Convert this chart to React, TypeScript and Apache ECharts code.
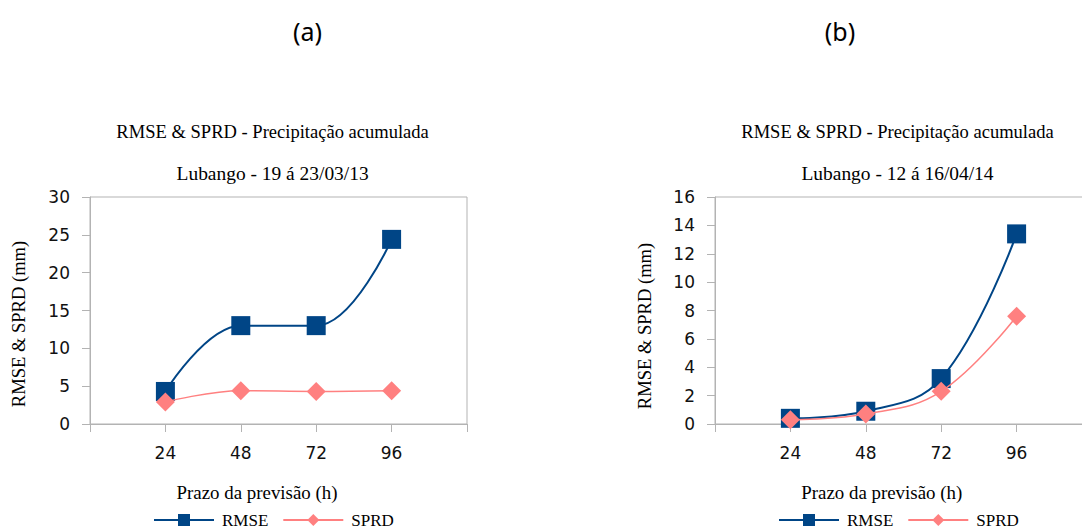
import React, { useEffect, useRef } from "react";
import * as echarts from "echarts";

const hours = [24, 48, 72, 96];
const rmseA = [4.3, 13.0, 13.0, 24.4];
const sprdA = [2.9, 4.4, 4.3, 4.4];
const rmseB = [0.4, 0.9, 3.2, 13.4];
const sprdB = [0.3, 0.7, 2.3, 7.6];

const panelLabels = ["(a)", "(b)"];
const titleText = "RMSE & SPRD - Precipitação acumulada";
const subtitles = ["Lubango - 19 á 23/03/13", "Lubango - 12 á 16/04/14"];
const xName = "Prazo da previsão (h)";
const yName = "RMSE & SPRD (mm)";
const seriesNames = ["RMSE", "SPRD"];

const RMSE_COLOR = "#004586";
const SPRD_COLOR = "#ff8080";
const AXIS_COLOR = "#b3b3b3";
const SERIF = "'Liberation Serif', 'Times New Roman', serif";
const SANS = "'DejaVu Sans', sans-serif";

const pairs = (xs: number[], ys: number[]) => xs.map((x, i) => [x, ys[i]]);

export default function App() {
  const ref = useRef<HTMLDivElement>(null);
  useEffect(() => {
    if (!ref.current) return;
    const chart = echarts.init(ref.current, null, { renderer: "svg" });
    const gridLefts = [90, 715];
    const xAxes = [0, 1].map((g) => ({
      type: "value",
      gridIndex: g,
      min: 0,
      max: 120,
      interval: 24,
      axisLine: { show: true, lineStyle: { color: AXIS_COLOR, width: 1 } },
      axisTick: { show: true, length: 8, lineStyle: { color: AXIS_COLOR } },
      splitLine: { show: false },
      axisLabel: {
        margin: 20,
        color: "#111",
        fontFamily: SANS,
        fontSize: 17,
        formatter: (v: number) => (v === 0 || v === 120 ? "" : String(v)),
      },
    }));
    const yMax = [30, 16];
    const yInt = [5, 2];
    const yAxes = [0, 1].map((g) => ({
      type: "value",
      gridIndex: g,
      min: 0,
      max: yMax[g],
      interval: yInt[g],
      axisLine: { show: true, lineStyle: { color: AXIS_COLOR, width: 1 } },
      axisTick: { show: true, length: 8, lineStyle: { color: AXIS_COLOR } },
      splitLine: { show: false },
      axisLabel: {
        margin: 20,
        color: "#111",
        fontFamily: SANS,
        fontSize: 17,
      },
    }));
    const data = [
      [rmseA, sprdA],
      [rmseB, sprdB],
    ];
    const series: any[] = [];
    [0, 1].forEach((g) => {
      series.push({
        name: seriesNames[0],
        type: "line",
        xAxisIndex: g,
        yAxisIndex: g,
        data: pairs(hours, data[g][0]),
        smooth: 0.4,
        symbol: "rect",
        symbolSize: 19,
        itemStyle: { color: RMSE_COLOR },
        lineStyle: { color: RMSE_COLOR, width: 2 },
        z: 3,
      });
      series.push({
        name: seriesNames[1],
        type: "line",
        xAxisIndex: g,
        yAxisIndex: g,
        data: pairs(hours, data[g][1]),
        smooth: 0.4,
        symbol: "diamond",
        symbolSize: 19,
        itemStyle: { color: SPRD_COLOR },
        lineStyle: { color: SPRD_COLOR, width: 1.5 },
        z: 4,
      });
    });
    const legendLefts = [148, 773];
    const legends = [0, 1].map((g) => ({
      data: seriesNames,
      left: legendLefts[g],
      top: 506,
      itemWidth: 60,
      itemHeight: 15,
      itemGap: 14,
      selectedMode: false,
      textStyle: {
        fontFamily: SERIF,
        fontSize: 17,
        lineHeight: 18,
        color: "#000",
        padding: [0, 0, 0, 3],
      },
    }));
    const textCenters = [
      { panel: 307.5, title: 272.6, xname: 257, yname: 19.5, ynameY: 324 },
      { panel: 840, title: 897.5, xname: 881.7, yname: 645.5, ynameY: 326 },
    ];
    const graphics: any[] = [];
    const addText = (x: number, y: number, text: string, sx: number, rot = 0) =>
      graphics.push({
        type: "text",
        x,
        y,
        rotation: rot,
        scaleX: sx,
        style: {
          text,
          fontFamily: SERIF,
          fontSize: 18,
          fill: "#000",
          align: "center",
          verticalAlign: "middle",
        },
      });
    textCenters.forEach((c, g) => {
      graphics.push({
        type: "text",
        x: c.panel,
        y: 31,
        style: {
          text: panelLabels[g],
          fontFamily: "'Noto Sans', sans-serif",
          fontSize: 25,
          fill: "#000",
          align: "center",
          verticalAlign: "middle",
        },
      });
      addText(c.title, 132, titleText, 1.03);
      addText(c.title, 174, subtitles[g], 1.08);
      addText(c.xname, 493, xName, 1.05);
      addText(c.yname, c.ynameY, yName, 1.03, Math.PI / 2);
    });
    chart.setOption({
      animation: false,
      backgroundColor: "#ffffff",
      grid: gridLefts.map((l) => ({
        left: l,
        top: 197,
        width: 377,
        height: 227,
        show: true,
        borderColor: AXIS_COLOR,
        borderWidth: 1,
        backgroundColor: "transparent",
        containLabel: false,
        outerBoundsMode: "none",
      })),
      xAxis: xAxes,
      yAxis: yAxes,
      legend: legends,
      series,
      graphic: graphics,
    });
    return () => chart.dispose();
  }, []);
  return (
    <div
      ref={ref}
      style={{ position: "fixed", left: 0, top: 0, width: 1082, height: 532 }}
    />
  );
}
